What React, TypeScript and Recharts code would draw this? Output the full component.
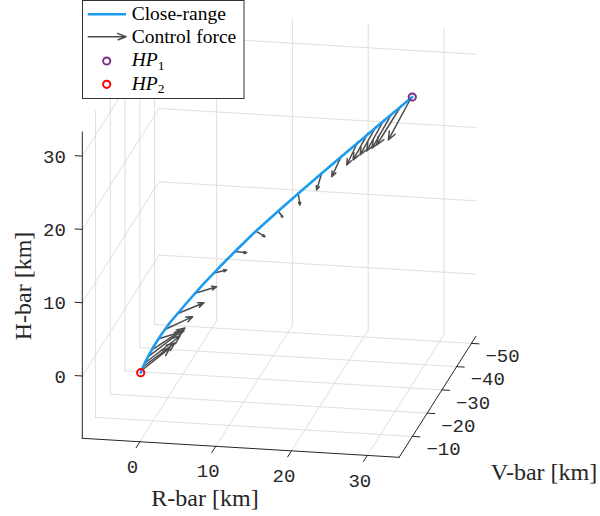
import React from 'react';
import { ScatterChart, Scatter, XAxis, YAxis, Legend } from 'recharts';

// ---- axis limits and ticks (km) ----
const rLim = [-7.6, 34.2];
const vLim = [-53, -1];
const hLim = [-8.5, 33.3];
const rTicks = [0, 10, 20, 30];
const vTicks = [-50, -40, -30, -20, -10];
const hTicks = [0, 10, 20, 30];

// ---- close-range trajectory (R-bar, V-bar, H-bar) ----
const trajR = [-0.09, 0.33, 1.11, 1.89, 2.77, 4.43, 5.99, 7.65, 9.3, 11.16, 13.5, 15.45, 17.4, 19.64, 21.59, 23.25, 25.2, 26.4];
const trajV = [-2.0, -2.76, -4.17, -5.59, -7.18, -10.18, -13.01, -16.01, -19.02, -22.38, -26.62, -30.15, -33.69, -37.75, -41.29, -44.3, -47.83, -50.0];
const trajH = [0.6, 1.78, 3.42, 4.73, 5.98, 7.86, 9.52, 11.12, 12.59, 14.17, 15.9, 17.29, 18.63, 20.14, 21.43, 22.55, 23.83, 24.63];

// ---- holding points ----
const hp1 = { r: 26.4, v: -50.0, h: 24.63 };
const hp2 = { r: -0.09, v: -2.0, h: 0.6 };

// ---- control force arrows: base point and (dR, dH) components ----
const fR0 = [-0.06, 0.13, 0.33, 0.62, 1.01, 1.6, 2.38, 3.65, 5.3, 7.06, 9.11, 11.22, 13.33, 15.28, 17.56, 19.52, 21.11, 22.08, 22.86, 23.64, 24.42, 25.3, 26.27];
const fV0 = [-2.05, -2.41, -2.76, -3.29, -4.0, -5.06, -6.47, -8.77, -11.77, -14.95, -18.67, -22.5, -26.32, -29.85, -33.99, -37.52, -40.4, -42.17, -43.58, -45.0, -46.41, -48.0, -49.77];
const fH0 = [0.82, 1.26, 1.71, 2.38, 3.13, 4.33, 5.3, 6.83, 8.71, 10.54, 12.42, 14.06, 15.78, 17.19, 18.75, 20.18, 21.28, 21.93, 22.42, 22.91, 23.4, 23.97, 24.56];
const fdR = [3.83, 4.22, 4.62, 4.62, 4.35, 3.43, 3.52, 3.3, 2.73, 1.68, 1.54, 1.1, 0.58, 0.22, -0.66, -1.32, -1.49, -1.98, -2.11, -2.28, -2.64, -3.21, -2.99];
const fdH = [3.38, 3.54, 3.97, 3.97, 3.27, 1.3, 1.9, 1.61, 1.03, 0.51, -0.07, -0.64, -0.82, -1.58, -2.32, -2.97, -3.3, -3.81, -4.02, -4.37, -4.91, -5.52, -5.92];

// ---- orthographic view (camera) ----
const proj = (r: number, v: number, h: number) => ({
  x: 138.43 + 7.58 * r - 1.475 * v,
  y: 381.78 + 0.455 * r + 2.325 * v - 7.33 * h,
});

type P = { x: number; y: number };

const GRID = '#dfdfdf';
const AX = '#262626';
const BLUE = '#1c9cf0';
const ARROW = '#4d4d4d';
const PURPLE = '#7e2f8e';
const RED = '#ff0000';

const Empty = () => <g />;

const seg = (key: string, pts: P[], stroke: string, sw: number) => (
  <Scatter
    key={key}
    data={pts}
    line={{ stroke, strokeWidth: sw, strokeLinejoin: 'round', strokeLinecap: 'round', fill: 'none' }}
    shape={Empty}
    isAnimationActive={false}
    legendType="none"
  />
);

const arrowPts = (b: P, t: P, maxHead = 9, frac = 0.24, ang = 0.38): P[] => {
  const dx = t.x - b.x;
  const dy = t.y - b.y;
  const len = Math.hypot(dx, dy) || 1;
  const ux = dx / len;
  const uy = dy / len;
  const hl = Math.min(maxHead, frac * len);
  const c = Math.cos(ang);
  const s = Math.sin(ang);
  const b1 = { x: t.x - hl * (ux * c - uy * s), y: t.y - hl * (uy * c + ux * s) };
  const b2 = { x: t.x - hl * (ux * c + uy * s), y: t.y - hl * (uy * c - ux * s) };
  return [b, t, b1, t, b2];
};

// grid lines on the back planes
const gridLines: P[][] = [
  ...vTicks.map((v) => [proj(rLim[0], v, hLim[0]), proj(rLim[0], v, hLim[1])]),
  ...hTicks.map((h) => [proj(rLim[0], vLim[1], h), proj(rLim[0], vLim[0], h)]),
  ...rTicks.map((r) => [proj(r, vLim[0], hLim[0]), proj(r, vLim[0], hLim[1])]),
  ...hTicks.map((h) => [proj(rLim[0], vLim[0], h), proj(rLim[1], vLim[0], h)]),
  ...rTicks.map((r) => [proj(r, vLim[1], hLim[0]), proj(r, vLim[0], hLim[0])]),
  ...vTicks.map((v) => [proj(rLim[0], v, hLim[0]), proj(rLim[1], v, hLim[0])]),
];

const axisLines: P[][] = [
  [proj(rLim[0], vLim[1], hLim[0]), proj(rLim[0], vLim[1], hLim[1])],
  [proj(rLim[0], vLim[1], hLim[0]), proj(rLim[1], vLim[1], hLim[0])],
  [proj(rLim[1], vLim[1], hLim[0]), proj(rLim[1], vLim[0], hLim[0])],
  ...hTicks.map((h) => [proj(rLim[0], vLim[1], h), proj(rLim[0] - 0.95, vLim[1], h)]),
  ...rTicks.map((r) => [proj(r, vLim[1], hLim[0]), proj(r, vLim[1] + 2.6, hLim[0])]),
  ...vTicks.map((v) => [proj(rLim[1], v, hLim[0]), proj(rLim[1] + 1.0, v, hLim[0])]),
];

const trajPts: P[] = trajR.map((r, i) => proj(r, trajV[i], trajH[i]));

const arrows: P[][] = fR0.map((r, i) =>
  arrowPts(proj(r, fV0[i], fH0[i]), proj(r + fdR[i], fV0[i], fH0[i] + fdH[i]))
);

type Lab = P & { text: string; kind: string };
const labels: Lab[] = [
  ...hTicks.map((h) => ({ ...proj(rLim[0], vLim[1], h), text: String(h), kind: 'h' })),
  ...rTicks.map((r) => ({ ...proj(r, vLim[1], hLim[0]), text: String(r), kind: 'r' })),
  ...vTicks.map((v) => ({ ...proj(rLim[1], v, hLim[0]), text: '\u2212' + Math.abs(v), kind: 'v' })),
  { x: 205, y: 506, text: 'R-bar [km]', kind: 'tr' },
  { x: 544, y: 479.5, text: 'V-bar [km]', kind: 'tv' },
  { x: 31, y: 286, text: 'H-bar [km]', kind: 'th' },
];

const TICKFONT = '"Liberation Mono", "DejaVu Sans Mono", monospace';
const SERIF = '"Liberation Serif", "DejaVu Serif", serif';

const LabelShape = (props: any) => {
  const { cx, cy, payload } = props;
  const k = payload.kind;
  if (k === 'h')
    return (
      <text x={cx - 16.5} y={cy} dy="0.35em" textAnchor="end" fontFamily={TICKFONT} fontSize={19} fill={AX}>
        {payload.text}
      </text>
    );
  if (k === 'r')
    return (
      <text x={cx - 7.5} y={cy + 24.5} dy="0.35em" textAnchor="middle" fontFamily={TICKFONT} fontSize={19} fill={AX}>
        {payload.text}
      </text>
    );
  if (k === 'v')
    return (
      <text x={cx + 14} y={cy + 12} dy="0.35em" textAnchor="start" fontFamily={TICKFONT} fontSize={19} fill={AX}>
        {payload.text}
      </text>
    );
  if (k === 'th')
    return (
      <text x={cx} y={cy} textAnchor="middle" transform={`rotate(-90 ${cx} ${cy})`} fontFamily={SERIF} fontSize={24} fill={AX}>
        {payload.text}
      </text>
    );
  return (
    <text x={cx} y={cy} textAnchor="middle" fontFamily={SERIF} fontSize={24} fill={AX}>
      {payload.text}
    </text>
  );
};

const ringShape = (color: string) => (props: any) => (
  <circle cx={props.cx} cy={props.cy} r={3.6} fill="none" stroke={color} strokeWidth={2} />
);

const LegendBox = () => {
  const arr = arrowPts({ x: 5.7, y: 36.7 }, { x: 44, y: 36.7 }, 9, 0.24, 0.38);
  const d = arr.map((p, i) => `${i ? 'L' : 'M'}${p.x},${p.y}`).join(' ');
  return (
    <svg width={164} height={100} style={{ display: 'block' }}>
      <rect x={0.5} y={0.5} width={161.5} height={98} fill="#ffffff" stroke="#333333" strokeWidth={1} />
      <line x1={5.7} y1={14.3} x2={44} y2={14.3} stroke={BLUE} strokeWidth={2.5} />
      <text x={49.7} y={19.5} fontFamily={SERIF} fontSize={19.5} fill="#000">Close-range</text>
      <path d={d} stroke={ARROW} strokeWidth={1.5} fill="none" strokeLinejoin="round" />
      <text x={49.7} y={42.5} fontFamily={SERIF} fontSize={19.5} fill="#000">Control force</text>
      <circle cx={24.7} cy={61} r={3.6} fill="none" stroke={PURPLE} strokeWidth={2} />
      <text x={49.7} y={66} fontFamily={SERIF} fontSize={19.5} fill="#000">
        <tspan fontStyle="italic">HP</tspan>
        <tspan fontSize={13.5} dy={3.5}>1</tspan>
      </text>
      <circle cx={24.7} cy={84.3} r={3.6} fill="none" stroke={RED} strokeWidth={2} />
      <text x={49.7} y={89.5} fontFamily={SERIF} fontSize={19.5} fill="#000">
        <tspan fontStyle="italic">HP</tspan>
        <tspan fontSize={13.5} dy={3.5}>2</tspan>
      </text>
    </svg>
  );
};

export default function App() {
  return (
    <div style={{ position: 'absolute', left: 0, top: 0, width: 600, height: 516, background: '#ffffff' }}>
      <ScatterChart width={600} height={516} margin={{ top: 0, right: 0, bottom: 0, left: 0 }}>
        <XAxis dataKey="x" type="number" domain={[0, 600]} allowDataOverflow hide />
        <YAxis dataKey="y" type="number" domain={[0, 516]} reversed allowDataOverflow hide />
        {gridLines.map((g, i) => seg(`g${i}`, g, GRID, 1))}
        {axisLines.map((g, i) => seg(`a${i}`, g, AX, 1))}
        {arrows.map((a, i) => seg(`f${i}`, a, ARROW, 1.5))}
        {seg('traj', trajPts, BLUE, 2.6)}
        <Scatter data={[proj(hp1.r, hp1.v, hp1.h)]} shape={ringShape(PURPLE)} isAnimationActive={false} legendType="none" />
        <Scatter data={[proj(hp2.r, hp2.v, hp2.h)]} shape={ringShape(RED)} isAnimationActive={false} legendType="none" />
        <Scatter data={labels} shape={LabelShape} isAnimationActive={false} legendType="none" />
        <Legend
          layout="vertical"
          align="center"
          verticalAlign="middle"
          wrapperStyle={{ left: 82, top: 0, width: 164, height: 100 }}
          content={() => <LegendBox />}
        />
      </ScatterChart>
    </div>
  );
}
